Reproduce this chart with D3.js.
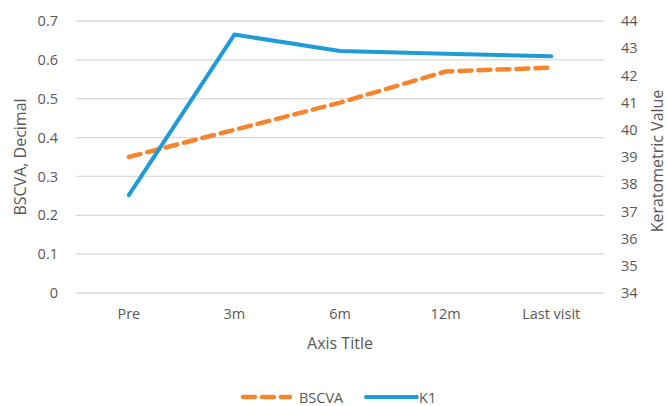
<!DOCTYPE html>
<html>
<head>
<meta charset="utf-8">
<script src="https://cdn.jsdelivr.net/npm/d3@7"></script>
<style>
  body { margin: 0; background: #fff; }
  text { font-family: "Open Sans", sans-serif; fill: #595959; }
</style>
</head>
<body>
<svg id="chart" width="667" height="406"></svg>
<script>
(function(){

  // data
  const categories = ["Pre", "3m", "6m", "12m", "Last visit"];
  const bscva = [0.35, 0.42, 0.49, 0.57, 0.58];
  const k1 = [37.6, 43.5, 42.9, 42.8, 42.7];
  const leftTicks = [0, 0.1, 0.2, 0.3, 0.4, 0.5, 0.6, 0.7];
  const rightTicks = [34, 35, 36, 37, 38, 39, 40, 41, 42, 43, 44];

  const margin = {top: 21, right: 63, bottom: 113, left: 76},
    width = 667 - margin.left - margin.right,
    height = 406 - margin.top - margin.bottom;

  const svg = d3.select("#chart");
  const g = svg.append("g")
    .attr("transform", "translate(" + margin.left + "," + margin.top + ")");

  const xScale = d3.scaleBand().domain(categories).range([0, width]);
  const yLeft = d3.scaleLinear().domain([0, 0.7]).range([height, 0]);
  const yRight = d3.scaleLinear().domain([34, 44]).range([height, 0]);

  // gridlines
  g.append("g")
    .selectAll("line")
    .data(leftTicks)
    .enter().append("line")
      .attr("x1", 0).attr("x2", width)
      .attr("y1", d => yLeft(d)).attr("y2", d => yLeft(d))
      .attr("stroke", "#d9d9d9")
      .attr("stroke-width", 1.3);

  // left axis
  const leftAxis = g.append("g")
    .call(d3.axisLeft(yLeft).tickValues(leftTicks).tickSize(0).tickPadding(18).tickFormat(d3.format("")));
  leftAxis.select(".domain").remove();
  leftAxis.selectAll("text").style("font-size", "14.5px").attr("fill", "#595959");

  // right axis
  const rightAxis = g.append("g")
    .attr("transform", "translate(" + width + ",0)")
    .call(d3.axisRight(yRight).tickValues(rightTicks).tickSize(0).tickPadding(17));
  rightAxis.select(".domain").remove();
  rightAxis.selectAll("text").style("font-size", "14.5px").attr("fill", "#595959");

  // x axis
  const xAxis = g.append("g")
    .attr("transform", "translate(0," + height + ")")
    .call(d3.axisBottom(xScale).tickSize(0).tickPadding(16));
  xAxis.select(".domain").remove();
  xAxis.selectAll("text").style("font-size", "14.5px").attr("fill", "#595959");

  // axis titles
  g.append("text")
    .attr("x", width / 2)
    .attr("y", height + 56)
    .attr("text-anchor", "middle")
    .style("font-size", "16px")
    .text("Axis Title");

  g.append("text")
    .attr("transform", "rotate(-90)")
    .attr("x", -136)
    .attr("y", -50)
    .attr("text-anchor", "middle")
    .style("font-size", "16px")
    .text("BSCVA, Decimal");

  g.append("text")
    .attr("transform", "rotate(-90)")
    .attr("x", -140)
    .attr("y", width + 59)
    .attr("text-anchor", "middle")
    .style("font-size", "16px")
    .text("Keratometric Value");

  const xc = d => xScale(d) + xScale.bandwidth() / 2;

  // lines
  const lineLeft = d3.line()
    .x((d, i) => xc(categories[i]))
    .y(d => yLeft(d));
  const lineRight = d3.line()
    .x((d, i) => xc(categories[i]))
    .y(d => yRight(d));

  g.append("path")
    .datum(bscva)
    .attr("d", lineLeft)
    .attr("fill", "none")
    .attr("stroke", "#f5852f")
    .attr("stroke-width", 4.5)
    .attr("stroke-dasharray", "12,7")
    .attr("stroke-linecap", "round");

  g.append("path")
    .datum(k1)
    .attr("d", lineRight)
    .attr("fill", "none")
    .attr("stroke", "#1f9cd8")
    .attr("stroke-width", 4)
    .attr("stroke-linecap", "round")
    .attr("stroke-linejoin", "round");

  // legend
  const legend = svg.append("g").attr("transform", "translate(0,397)");
  legend.append("line")
    .attr("x1", 243).attr("x2", 290).attr("y1", 0).attr("y2", 0)
    .attr("stroke", "#f5852f").attr("stroke-width", 4.5)
    .attr("stroke-dasharray", "12,7").attr("stroke-linecap", "round");
  legend.append("text")
    .attr("x", 299).attr("y", 5.5)
    .style("font-size", "14.5px")
    .text("BSCVA");
  legend.append("line")
    .attr("x1", 366).attr("x2", 417).attr("y1", 0).attr("y2", 0)
    .attr("stroke", "#1f9cd8").attr("stroke-width", 4)
    .attr("stroke-linecap", "round");
  legend.append("text")
    .attr("x", 419).attr("y", 5.5)
    .style("font-size", "14.5px")
    .text("K1");

})();
</script>
</body>
</html>
